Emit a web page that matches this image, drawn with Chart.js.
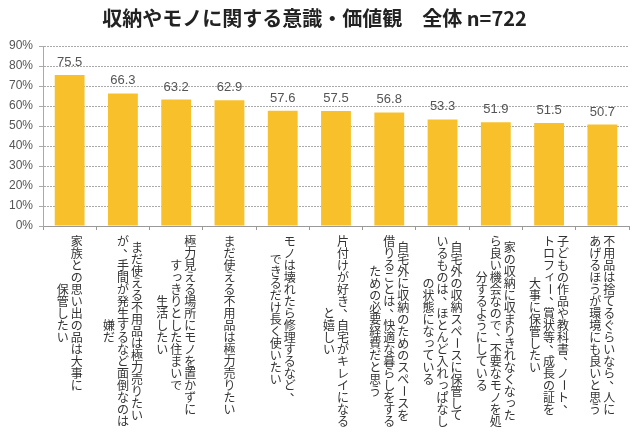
<!DOCTYPE html>
<html>
<head>
<meta charset="utf-8">
<script src="https://cdn.jsdelivr.net/npm/chart.js@4"></script>
<style>
body{margin:0;background:#fff;}
#wrap{width:640px;height:436px;}
</style>
</head>
<body>
<div id="wrap"><canvas id="chart"></canvas></div>
<script>
// data
const labels = [
  ["家族との思い出の品は大事に", "保管したい"],
  ["まだ使える不用品は極力売りたい", "が、手間が発生するなど面倒なのは", "嫌だ"],
  ["極力見える場所にモノを置かずに", "すっきりとした住まいで", "生活したい"],
  ["まだ使える不用品は極力売りたい"],
  ["モノは壊れたら修理するなど、", "できるだけ長く使いたい"],
  ["片付けが好き、自宅がキレイになる", "と嬉しい"],
  ["自宅外に収納のためのスペースを", "借りることは、快適な暮らしをする", "ための必要経費だと思う"],
  ["自宅外の収納スペースに保管して", "いるものは、ほとんど入れっぱなし", "の状態になっている"],
  ["家の収納に収まりきれなくなった", "ら良い機会なので、不要なモノを処", "分するようにしている"],
  ["子どもの作品や教科書、ノート、", "トロフィー、賞状等、成長の証を", "大事に保管したい"],
  ["不用品は捨てるぐらいなら、人に", "あげるほうが環境にも良いと思う"]
];
const values = [75.5, 66.3, 63.2, 62.9, 57.6, 57.5, 56.8, 53.3, 51.9, 51.5, 50.7];
const yTicks = [0, 10, 20, 30, 40, 50, 60, 70, 80, 90];

const jpFont = "'Noto Sans CJK JP', sans-serif";

// value above each bar
const valueLabels = {
  id: "valueLabels",
  afterDatasetsDraw(chart){
    const ctx = chart.ctx;
    const meta = chart.getDatasetMeta(0);
    ctx.save();
    ctx.font = "13px 'Liberation Sans', Arial, sans-serif";
    ctx.fillStyle = "#555";
    ctx.textAlign = "center";
    ctx.textBaseline = "bottom";
    meta.data.forEach((bar, i) => {
      ctx.fillText(values[i].toFixed(1), bar.x, bar.y - 6);
    });
    ctx.restore();
  }
};

// vertical (tategaki) category labels, columns right to left
const verticalLabels = {
  id: "verticalLabels",
  afterDraw(chart){
    const ctx = chart.ctx;
    const x = chart.scales.x;
    const step = 12, colGap = 14, top = chart.chartArea.bottom + 9;
    ctx.save();
    ctx.font = "12px " + jpFont;
    ctx.fillStyle = "#333";
    ctx.textAlign = "center";
    ctx.textBaseline = "middle";
    labels.forEach((lines, i) => {
      const cx = x.getPixelForValue(i);
      const maxLen = Math.max(...lines.map(l => [...l].length));
      lines.forEach((line, j) => {
        const chars = [...line];
        const colX = cx + (lines.length - 1) / 2 * colGap - j * colGap;
        const y0 = top + (maxLen - chars.length) / 2 * step;
        chars.forEach((ch, k) => {
          const cy = y0 + k * step + step / 2;
          if(ch === "、"){
            ctx.fillText(ch, colX + 6, cy - 6);
          } else if(ch === "ー"){
            ctx.save();
            ctx.translate(colX, cy);
            ctx.rotate(Math.PI / 2);
            ctx.fillText(ch, 0, 0);
            ctx.restore();
          } else if("っィゃゅょ".includes(ch)){
            ctx.fillText(ch, colX + 1, cy - 1);
          } else {
            ctx.fillText(ch, colX, cy);
          }
        });
      });
    });
    ctx.restore();
  }
};

new Chart(document.getElementById("chart"), {
  type: "bar",
  data: {
    labels: labels.map(l => l.join("")),
    datasets: [{
      data: values,
      backgroundColor: "#F8C12C",
      barPercentage: 0.56,
      categoryPercentage: 1
    }]
  },
  options: {
    responsive: true,
    maintainAspectRatio: false,
    animation: false,
    layout: { padding: { top: 0, right: 11, left: 0, bottom: 0 } },
    plugins: {
      legend: { display: false },
      tooltip: { enabled: false },
      title: {
        display: true,
        text: "収納やモノに関する意識・価値観　全体 n=722",
        color: "#222",
        font: { family: jpFont, size: 20, weight: "bold" },
        padding: { top: 6, bottom: 16 }
      }
    },
    scales: {
      x: {
        afterFit(scale){ scale.height = 210; },
        grid: { offset: true, drawOnChartArea: false, drawTicks: true, tickLength: 4, color: "#999" },
        border: { color: "#999" },
        ticks: { display: false }
      },
      y: {
        min: 0,
        max: 90,
        afterFit(scale){ scale.width = 43; },
        afterBuildTicks(scale){ scale.ticks = yTicks.map(v => ({ value: v })); },
        grid: { color: "#aaa", tickLength: 4 },
        border: { color: "#aaa", dash: [2, 1] },
        ticks: {
          color: "#555",
          padding: 6,
          font: { family: "'Liberation Sans', Arial, sans-serif", size: 12 },
          callback: v => v + "%"
        }
      }
    }
  },
  plugins: [valueLabels, verticalLabels]
});
</script>
</body>
</html>
